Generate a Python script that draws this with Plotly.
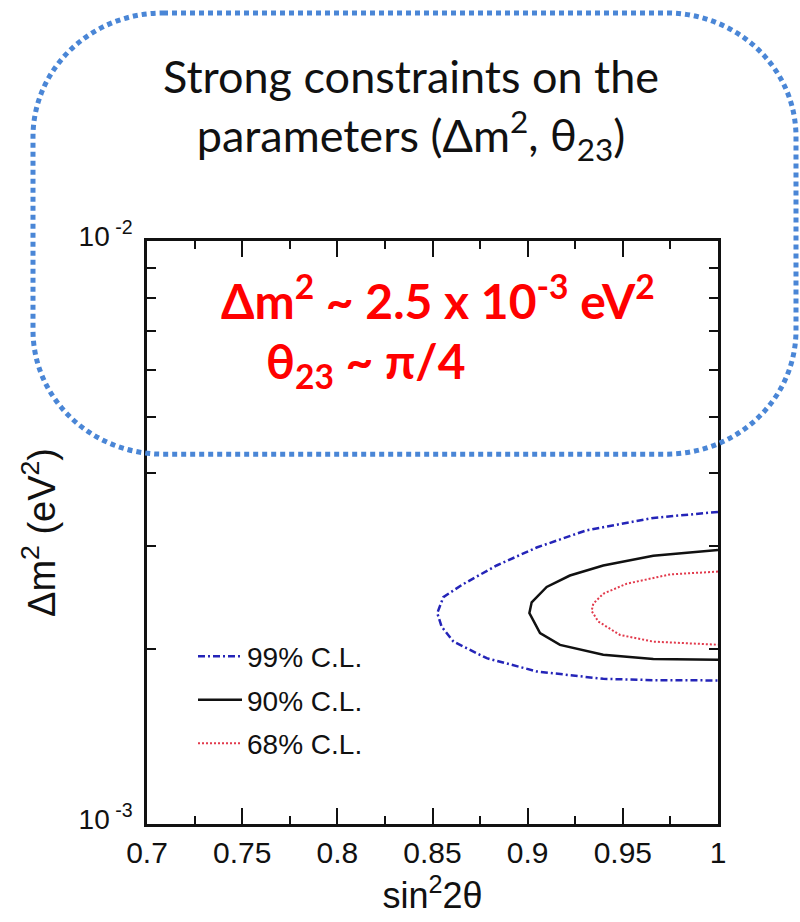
import plotly.graph_objects as go

# ---------------- data ----------------
cl99_sin2 = [1.0, 0.966, 0.931, 0.9047, 0.8837, 0.8662, 0.8557, 0.8525, 0.8548, 0.861, 0.8785, 0.9047, 0.9397, 0.966, 1.0]
cl99_dm2 = [3.43e-3, 3.35e-3, 3.19e-3, 2.98e-3, 2.776e-3, 2.58e-3, 2.45e-3, 2.30e-3, 2.18e-3, 2.055e-3, 1.925e-3, 1.827e-3, 1.774e-3, 1.765e-3, 1.763e-3]

cl90_sin2 = [1.0, 0.966, 0.9397, 0.9222, 0.91, 0.9021, 0.9009, 0.9065, 0.917, 0.9397, 0.966, 1.0]
cl90_dm2 = [2.95e-3, 2.886e-3, 2.776e-3, 2.668e-3, 2.55e-3, 2.40e-3, 2.30e-3, 2.125e-3, 2.029e-3, 1.952e-3, 1.918e-3, 1.914e-3]

cl68_sin2 = [1.0, 0.9748, 0.952, 0.9397, 0.9345, 0.9336, 0.9371, 0.9485, 0.966, 1.0]
cl68_dm2 = [2.71e-3, 2.68e-3, 2.583e-3, 2.483e-3, 2.388e-3, 2.32e-3, 2.225e-3, 2.11e-3, 2.055e-3, 2.03e-3]

series_names = ["99% C.L.", "90% C.L.", "68% C.L."]
x_tickvals = [0.7, 0.75, 0.8, 0.85, 0.9, 0.95, 1.0]
x_ticktext = ["0.7", "0.75", "0.8", "0.85", "0.9", "0.95", "1"]
y_tickvals = [1e-3, 1e-2]
y_ticktext = ["10<sup> -3</sup>", "10<sup> -2</sup>"]
y_minor_vals = [2e-3, 3e-3, 4e-3, 5e-3, 6e-3, 7e-3, 8e-3, 9e-3]

title_lines = ["Strong constraints on the", "parameters (Δm<sup>2</sup>, θ<sub>23</sub>)"]
red_lines = ["Δm<sup>2</sup> ~ 2.5 x 10<sup>-3</sup> eV<sup>2</sup>", "θ<sub>23</sub> ~ π/4"]

# ---------------- layout geometry ----------------
W, H = 800, 922
L, R, T, B = 147, 718, 241, 829
PW, PH = R - L, B - T


def px(x):
    return (x - L) / PW


def py(y):
    return (B - y) / PH


fig = go.Figure()

fig.add_trace(go.Scatter(x=cl99_sin2, y=cl99_dm2, mode="lines", name=series_names[0], legendgroup="a",
                         line=dict(color="#2424b8", width=2.5, dash="7px,3px,2px,3px")))
fig.add_trace(go.Scatter(x=cl90_sin2, y=cl90_dm2, mode="lines", name=series_names[1], legendgroup="b",
                         line=dict(color="#111111", width=2.5)))
fig.add_trace(go.Scatter(x=cl68_sin2, y=cl68_dm2, mode="lines", name=series_names[2], legendgroup="c",
                         line=dict(color="#e23a4c", width=2, dash="2px,2px")))

# rounded dotted box (pixel geometry -> paper)
bx0, bx1, by0, by1, rx, ry = 33, 796, 11, 456, 130, 125
k = 0.5523
pts = [
    ("M", [(bx0 + rx, by0)]),
    ("L", [(bx1 - rx, by0)]),
    ("C", [(bx1 - rx + rx * k, by0), (bx1, by0 + ry - ry * k), (bx1, by0 + ry)]),
    ("L", [(bx1, by1 - ry)]),
    ("C", [(bx1, by1 - ry + ry * k), (bx1 - rx + rx * k, by1), (bx1 - rx, by1)]),
    ("L", [(bx0 + rx, by1)]),
    ("C", [(bx0 + rx - rx * k, by1), (bx0, by1 - ry + ry * k), (bx0, by1 - ry)]),
    ("L", [(bx0, by0 + ry)]),
    ("C", [(bx0, by0 + ry - ry * k), (bx0 + rx - rx * k, by0), (bx0 + rx, by0)]),
]
path = ""
for cmd, cps in pts:
    path += cmd + " " + " ".join(f"{px(a):.5f},{py(b):.5f}" for a, b in cps) + " "
path += "Z"
fig.add_shape(type="path", path=path, xref="paper", yref="paper",
              line=dict(color="#4a86d6", width=5, dash="5px,4px"), layer="above")

title_font = dict(family="Lato", size=45, color="#111111")
fig.add_annotation(text="<br>".join(title_lines), x=px(411), y=py(107), xref="paper", yref="paper",
                   showarrow=False, xanchor="center", yanchor="middle", align="center", font=title_font)

red_font = dict(family="Lato", size=48, color="#ff0000", weight="bold")
fig.add_annotation(text="<b>" + red_lines[0] + "</b>", x=px(219), y=py(298), xref="paper", yref="paper",
                   showarrow=False, xanchor="left", yanchor="middle", font=red_font)
fig.add_annotation(text="<b>" + red_lines[1] + "</b>", x=px(264), y=py(365), xref="paper", yref="paper",
                   showarrow=False, xanchor="left", yanchor="middle", font=red_font)

axis_font = dict(family="Liberation Sans", size=30, color="#111111")

fig.update_xaxes(range=[0.7, 1.0], tickvals=x_tickvals, ticktext=x_ticktext,
                 ticks="inside", ticklen=16, tickwidth=2, tickcolor="#111111",
                 showline=True, linewidth=2.5, linecolor="#111111", mirror="allticks",
                 showgrid=False, zeroline=False, tickfont=axis_font,
                 minor=dict(ticks="inside", ticklen=8, tickwidth=2, tickcolor="#111111",
                            dtick=0.025, tick0=0.7, showgrid=False),
                 title=dict(text="sin<sup>2</sup>2θ", font=dict(family="Liberation Sans", size=36, color="#111111"),
                            standoff=16))
fig.update_yaxes(type="log", range=[-3, -2], tickvals=y_tickvals, ticktext=y_ticktext,
                 ticks="inside", ticklen=16, tickwidth=2, tickcolor="#111111",
                 showline=True, linewidth=2.5, linecolor="#111111", mirror="allticks",
                 showgrid=False, zeroline=False,
                 tickfont=dict(family="Liberation Sans", size=28, color="#111111"),
                 ticklabelstandoff=6, ticklabelshift=-5,
                 minor=dict(ticks="inside", ticklen=9, tickwidth=2, tickcolor="#111111",
                            tickvals=y_minor_vals, showgrid=False),
                 title=dict(text="Δm<sup>2</sup> (eV<sup>2</sup>)", font=dict(family="Liberation Sans", size=38, color="#111111"),
                            standoff=12))

fig.update_layout(
    width=W, height=H,
    margin=dict(l=L, r=W - R, t=T, b=H - B, pad=0),
    paper_bgcolor="white", plot_bgcolor="white",
    showlegend=True,
    legend=dict(x=px(193), y=py(635), xanchor="left", yanchor="top", tracegroupgap=4,
                traceorder="grouped",
                bgcolor="rgba(0,0,0,0)", font=dict(family="Liberation Sans", size=28, color="#111111"),
                itemwidth=44),
)

fig.write_html("out.html", config={"displayModeBar": False},
               post_script="document.body.style.margin='0px';")
